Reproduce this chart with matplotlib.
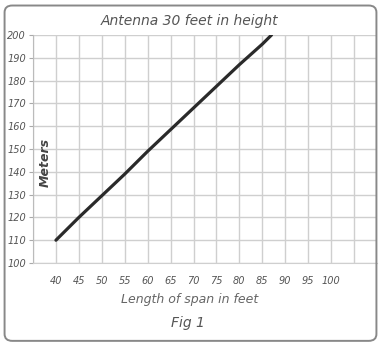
import matplotlib
matplotlib.use("Agg")
import matplotlib.pyplot as plt
from matplotlib.patches import FancyBboxPatch

span_feet = [40, 45, 50, 55, 60, 65, 70, 75, 80, 85, 87]
meters = [110, 120, 129.5, 139, 149, 158.5, 168, 177.5, 187, 196, 200]
x_ticks = [40, 45, 50, 55, 60, 65, 70, 75, 80, 85, 90, 95, 100]
y_ticks = [100, 110, 120, 130, 140, 150, 160, 170, 180, 190, 200]

fig = plt.figure(figsize=(3.81, 3.45), dpi=100)
fig.patch.set_facecolor('white')

# outer frame
frame = FancyBboxPatch((0.012, 0.012), 0.976, 0.972, boxstyle="round,pad=0,rounding_size=0.02",
                       transform=fig.transFigure, fill=False, edgecolor='#888888', lw=1.4)
fig.patches.append(frame)

ax = fig.add_axes([33/381, 1-263/345, (377-33)/381, (263-35)/345])
ax.plot(span_feet, meters, color='#2a2a2a', lw=2.3, solid_capstyle='round')
ax.set_xlim(35, 110)
ax.set_ylim(100, 200)
ax.set_xticks(list(range(35, 111, 5)))
ax.set_xticklabels(['' if t not in x_ticks else str(t) for t in range(35, 111, 5)],
                   fontsize=7, style='italic', color='#555555')
ax.set_yticks(y_ticks)
ax.set_yticklabels([str(t) for t in y_ticks], fontsize=7, style='italic', color='#555555')
ax.tick_params(axis='x', length=0, pad=9)
ax.tick_params(axis='y', length=3, color='#aaaaaa', pad=2)
ax.grid(True, color='#cfcfcf', lw=1.0)
for s in ax.spines.values():
    s.set_visible(False)
ax.spines['left'].set_visible(True)
ax.spines['left'].set_color('#bbbbbb')
ax.spines['bottom'].set_visible(True)
ax.spines['bottom'].set_color('#cfcfcf')

ax.text(0.035, 0.44, 'Meters', transform=ax.transAxes, rotation=90, fontsize=9,
        fontweight='bold', style='italic', color='#444444', ha='center', va='center')

fig.text(190/381, 1-21/345, 'Antenna 30 feet in height', ha='center', va='center',
         fontsize=10, style='italic', color='#555555')
fig.text(190/381, 1-300/345, 'Length of span in feet', ha='center', va='center',
         fontsize=9, style='italic', color='#666666')
fig.text(188/381, 1-323/345, 'Fig 1', ha='center', va='center',
         fontsize=10, style='italic', color='#555555')

fig.savefig('out.png', dpi=100, facecolor='white')
